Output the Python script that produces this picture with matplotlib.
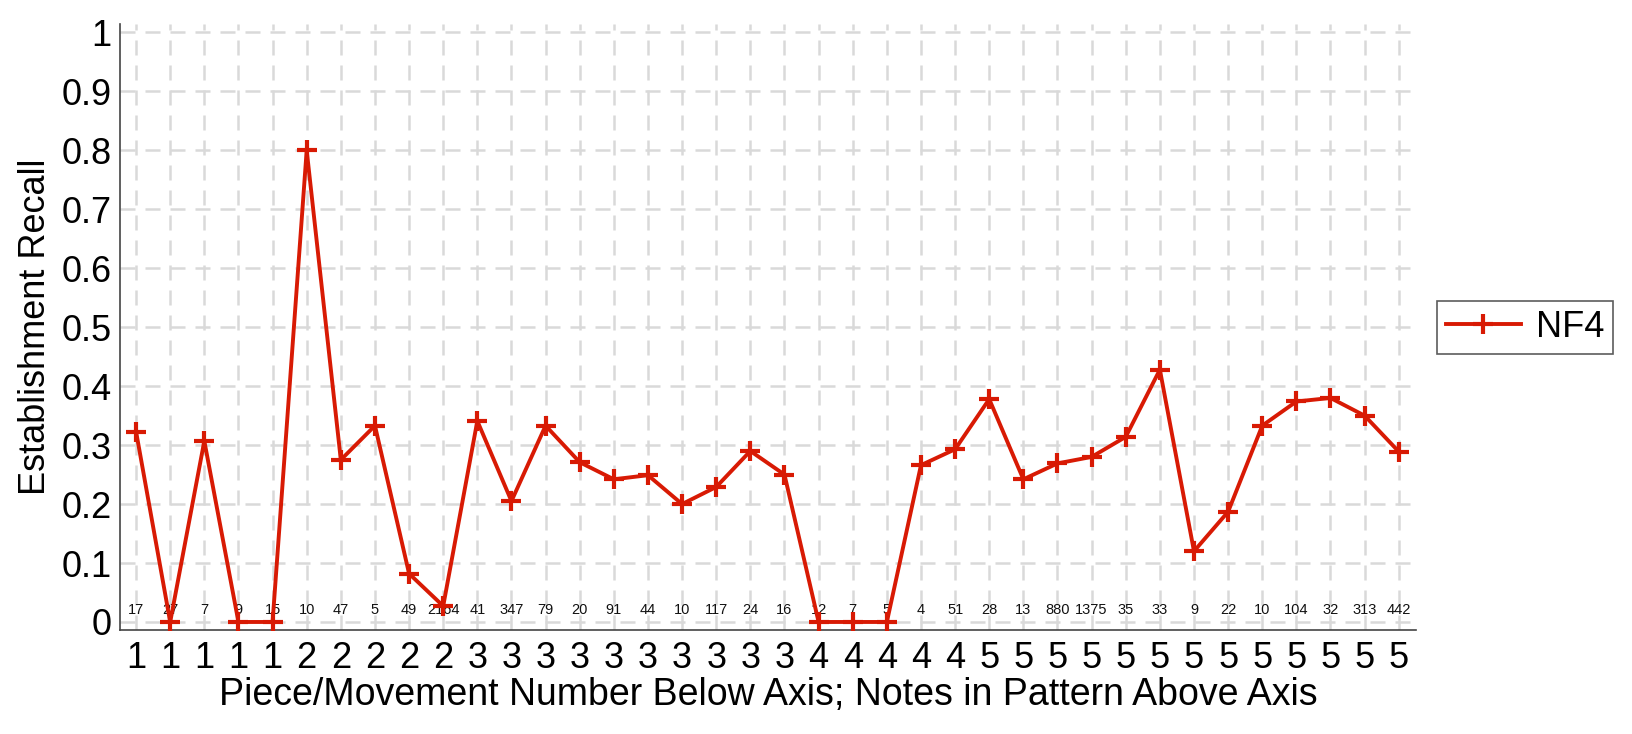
import matplotlib.pyplot as plt
import numpy as np

# piece/movement number under each point, and note counts written above the axis
pieces = [1, 1, 1, 1, 1, 2, 2, 2, 2, 2,
          3, 3, 3, 3, 3, 3, 3, 3, 3, 3,
          4, 4, 4, 4, 4,
          5, 5, 5, 5, 5, 5, 5, 5, 5, 5, 5, 5, 5]
notes = [17, 27, 7, 9, 15, 10, 47, 5, 49, 2164,
         41, 347, 79, 20, 91, 44, 10, 117, 24, 16,
         12, 7, 5, 4, 51,
         28, 13, 880, 1375, 35, 33, 9, 22, 10, 104, 32, 313, 442]
recall = [0.323, 0.0, 0.307, 0.0, 0.0, 0.8, 0.275, 0.333, 0.082, 0.027,
          0.341, 0.205, 0.333, 0.271, 0.242, 0.249, 0.2, 0.229, 0.29, 0.25,
          0.0, 0.0, 0.0, 0.266, 0.293,
          0.378, 0.242, 0.269, 0.28, 0.314, 0.428, 0.12, 0.187, 0.333,
          0.374, 0.38, 0.35, 0.289]

red = '#d81a04'
fnt = 'Liberation Sans'
x = np.arange(1, len(recall) + 1)

plt.rcParams['font.family'] = [fnt, 'DejaVu Sans']
fig = plt.figure(figsize=(16.33, 7.34), dpi=100)
ax = fig.add_axes([0.0735, 0.1417, 0.7935, 0.825])

ax.plot(x, recall, color=red, lw=2.8, marker='+', ms=14, mew=3, label='NF4', zorder=3)

# note counts just above zero
for xi, n in zip(x, notes):
    ax.text(xi, 0.014, str(n), ha='center', va='baseline', fontsize=10.5,
            color='#111111', zorder=2)

ax.set_xlim(0.53, 38.5)
ax.set_ylim(-0.0136, 1.0136)
ax.set_xticks(x)
ax.set_xticklabels([str(p) for p in pieces], fontsize=26)
ax.set_yticks(np.arange(0, 1.01, 0.1))
ax.set_yticklabels(['0', '0.1', '0.2', '0.3', '0.4', '0.5', '0.6', '0.7', '0.8', '0.9', '1'],
                   fontsize=26)
ax.tick_params(axis='y', length=0, pad=6)
ax.tick_params(axis='x', length=0, pad=8)

ax.grid(True, color='#d9d9d9', lw=1.8, linestyle=(0, (6, 4)), zorder=0)
ax.set_axisbelow(True)
for s in ['top', 'right']:
    ax.spines[s].set_visible(False)
for s in ['left', 'bottom']:
    ax.spines[s].set_color('#444444')
    ax.spines[s].set_linewidth(1.2)

ax.set_xlabel('Piece/Movement Number Below Axis; Notes in Pattern Above Axis',
              fontsize=27, labelpad=1)
ax.set_ylabel('Establishment Recall', fontsize=26, labelpad=6)

leg = ax.legend(loc='center left', bbox_to_anchor=(1.016, 0.5), fontsize=26,
                fancybox=False, edgecolor='#333333', handlelength=2.1,
                handletextpad=0.4, borderpad=0.25, borderaxespad=0)
leg.get_frame().set_linewidth(1.2)

fig.savefig('out.png', dpi=100)
